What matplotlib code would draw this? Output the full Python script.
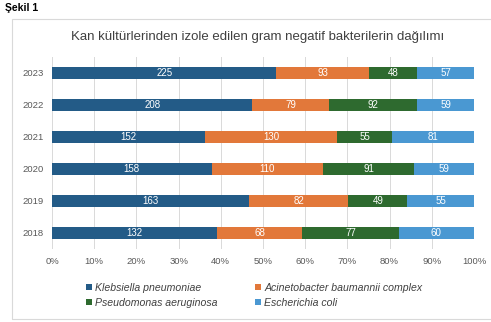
import numpy as np
import matplotlib.pyplot as plt
from matplotlib.patches import Rectangle

plt.rcParams['font.family'] = ['Liberation Sans', 'DejaVu Sans']

# yıllara göre izolat sayıları
years = ['2018', '2019', '2020', '2021', '2022', '2023']
klebsiella = [132, 163, 158, 152, 208, 225]
acinetobacter = [68, 82, 110, 130, 79, 93]
pseudomonas = [77, 49, 91, 55, 92, 48]
ecoli = [60, 55, 59, 81, 59, 57]

names = ['Klebsiella pneumoniae', 'Acinetobacter baumannii complex',
         'Pseudomonas aeruginosa', 'Escherichia coli']
colors = ['#235b87', '#e2783a', '#2e6a2f', '#4a98d2']

data = np.array([klebsiella, acinetobacter, pseudomonas, ecoli], dtype=float)
totals = data.sum(axis=0)
pct = data / totals

fig = plt.figure(figsize=(4.91, 3.22), dpi=100)
fig.patch.set_facecolor('white')

# çerçeve
fig.patches.append(Rectangle((12 / 491, 3 / 322), 1.2, 300 / 322, transform=fig.transFigure,
                             fill=False, edgecolor='#d9d9d9', linewidth=0.8))
fig.text(5 / 491, 1 - 8 / 322, 'Şekil 1', fontsize=7.5, fontweight='bold', va='center', ha='left')
fig.text(258 / 491, 1 - 37 / 322, 'Kan kültürlerinden izole edilen gram negatif bakterilerin dağılımı',
         fontsize=9.5, color='#404040', ha='center', va='center')

ax = fig.add_axes([52 / 491, 1 - 249 / 322, 422 / 491, 192 / 322])
y = np.arange(len(years))
left = np.zeros(len(years))
bars = []
for i in range(4):
    b = ax.barh(y, pct[i], left=left, height=0.4, color=colors[i], label=names[i], zorder=3)
    for j in range(len(years)):
        ax.text(left[j] + pct[i][j] / 2, y[j], str(int(data[i][j])), color='white',
                fontsize=7, ha='center', va='center', zorder=4)
    left += pct[i]
    bars.append(b)

ax.set_xlim(0, 1)
ax.set_ylim(-0.5, len(years) - 0.5)
ax.set_yticks(y)
ax.set_yticklabels(years)
ax.set_xticks(np.arange(0, 1.01, 0.1))
ax.set_xticklabels([f'{int(round(v * 100))}%' for v in np.arange(0, 1.01, 0.1)])
ax.tick_params(axis='both', length=0, labelsize=6.8, labelcolor='#595959', pad=6)
ax.grid(axis='x', color='#d9d9d9', linewidth=0.7, zorder=0)
for s in ax.spines.values():
    s.set_visible(False)

# legend satır satır: K. pneumoniae, A. baumannii / P. aeruginosa, E. coli
order = [0, 2, 1, 3]
leg = fig.legend(handles=[bars[k] for k in order], labels=[names[k] for k in order],
                 loc='upper left', ncol=2, bbox_to_anchor=(86 / 491, 1 - 283 / 322),
                 frameon=False, borderpad=0, borderaxespad=0,
                 prop={'size': 7.6, 'style': 'italic'}, handlelength=0.55, handleheight=0.55,
                 handletextpad=0.3, columnspacing=3.6, labelspacing=0.45)
for t in leg.get_texts():
    t.set_color('#404040')

fig.savefig('out.png', dpi=100)
